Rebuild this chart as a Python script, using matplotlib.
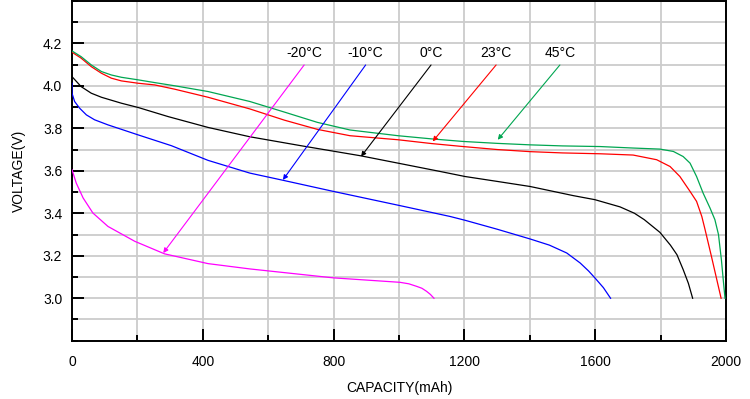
import matplotlib
matplotlib.use("Agg")
import matplotlib.pyplot as plt
from matplotlib.ticker import MultipleLocator

# discharge curves (capacity mAh, voltage V)
cap_45 = [0, 28, 59, 90, 120, 151, 202, 253, 314, 416, 544, 650, 750, 850, 997, 1100, 1196, 1300, 1401, 1500, 1615, 1716, 1798, 1839, 1869, 1890, 1910, 1930, 1951, 1966, 1977, 1986, 1992, 1997]
volt_45 = [4.164, 4.137, 4.098, 4.067, 4.051, 4.040, 4.028, 4.015, 4.0, 3.973, 3.926, 3.876, 3.828, 3.792, 3.765, 3.75, 3.738, 3.729, 3.722, 3.717, 3.714, 3.707, 3.702, 3.691, 3.667, 3.636, 3.573, 3.495, 3.425, 3.37, 3.30, 3.18, 3.08, 3.0]
cap_23 = [0, 28, 59, 90, 120, 151, 202, 253, 314, 416, 544, 650, 750, 850, 997, 1100, 1196, 1300, 1401, 1500, 1615, 1716, 1788, 1829, 1859, 1890, 1910, 1926, 1936, 1955, 1970, 1985]
volt_23 = [4.158, 4.13, 4.09, 4.059, 4.036, 4.023, 4.012, 4.004, 3.984, 3.946, 3.891, 3.838, 3.795, 3.765, 3.746, 3.728, 3.714, 3.70, 3.69, 3.684, 3.68, 3.674, 3.652, 3.62, 3.573, 3.503, 3.456, 3.385, 3.323, 3.2, 3.10, 3.0]
cap_0 = [0, 28, 59, 90, 151, 202, 294, 416, 544, 700, 881, 1000, 1125, 1202, 1300, 1401, 1533, 1599, 1676, 1720, 1750, 1798, 1830, 1850, 1869, 1885, 1898]
volt_0 = [4.043, 3.996, 3.965, 3.946, 3.918, 3.898, 3.855, 3.804, 3.76, 3.718, 3.671, 3.635, 3.597, 3.573, 3.55, 3.526, 3.483, 3.464, 3.43, 3.40, 3.37, 3.31, 3.25, 3.205, 3.135, 3.07, 3.0]
cap_m10 = [0, 0, 8, 23, 44, 69, 110, 202, 304, 416, 544, 646, 799, 1003, 1156, 1202, 1300, 1401, 1460, 1513, 1554, 1580, 1599, 1625, 1647]
volt_m10 = [4.012, 3.965, 3.926, 3.895, 3.863, 3.840, 3.816, 3.769, 3.718, 3.649, 3.589, 3.555, 3.503, 3.436, 3.385, 3.367, 3.325, 3.279, 3.25, 3.213, 3.166, 3.128, 3.096, 3.05, 3.0]
cap_m20 = [0, 13, 34, 64, 110, 192, 283, 416, 544, 799, 1003, 1030, 1054, 1070, 1084, 1096, 1107]
volt_m20 = [3.605, 3.542, 3.472, 3.401, 3.338, 3.268, 3.209, 3.163, 3.138, 3.096, 3.075, 3.068, 3.056, 3.047, 3.033, 3.018, 3.0]

labels = ["-20°C", "-10°C", "0°C", "23°C", "45°C"]
label_x = [710, 898, 1098, 1297, 1492]
arrow_tip = [(279, 3.213), (645, 3.557), (884, 3.667), (1103, 3.738), (1302, 3.746)]

plt.rcParams["font.family"] = ["Liberation Sans", "DejaVu Sans"]

fig = plt.figure(figsize=(7.5, 3.99), dpi=100)
ax = fig.add_axes([0.096, 0.146, 0.872, 0.852])

series = [
    (cap_m20, volt_m20, "#ff00ff"),
    (cap_m10, volt_m10, "#0000ff"),
    (cap_0, volt_0, "#000000"),
    (cap_23, volt_23, "#ff0000"),
    (cap_45, volt_45, "#00a651"),
]
for (cx, cy, color) in series:
    ax.plot(cx, cy, color=color, linewidth=0.9, zorder=3)

for (text, lx, tip, (_, _, color)) in zip(labels, label_x, arrow_tip, series):
    ax.annotate("", xy=tip, xytext=(lx, 4.098),
                arrowprops=dict(arrowstyle="-|>", color=color, lw=0.8,
                                mutation_scale=7, shrinkA=0, shrinkB=0), zorder=4)
    ax.text(lx, 4.155, text, ha="center", va="center", fontsize=10, color="black")

ax.set_xlim(0, 2000)
ax.set_ylim(2.8, 4.4)
ax.xaxis.set_major_locator(MultipleLocator(400))
ax.xaxis.set_minor_locator(MultipleLocator(200))
ax.yaxis.set_minor_locator(MultipleLocator(0.1))
ax.set_yticks([3.0, 3.2, 3.4, 3.6, 3.8, 4.0, 4.2])
ax.set_yticklabels(["3.0", "3.2", "3.4", "3.6", "3.8", "4.0", "4.2"])
ax.grid(True, which="both", color="#cccccc", linewidth=1.3, zorder=0)
ax.set_axisbelow(True)
ax.tick_params(which="major", direction="in", length=8.5, width=1.4, labelsize=10)
ax.tick_params(which="minor", direction="in", length=4.3, width=1.4)
ax.tick_params(axis="y", pad=7)
ax.tick_params(axis="x", pad=10)
for side in ["left", "bottom", "right", "top"]:
    ax.spines[side].set_linewidth(1.4)
ax.set_xlabel("CAPACITY(mAh)", fontsize=10, labelpad=9)
ax.set_ylabel("VOLTAGE(V)", fontsize=10, labelpad=12)

fig.savefig("out.png", dpi=100)
